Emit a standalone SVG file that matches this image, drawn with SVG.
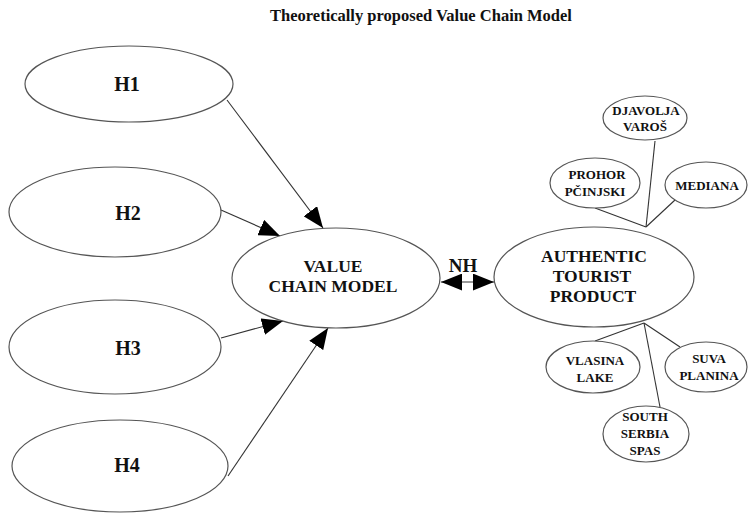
<svg xmlns="http://www.w3.org/2000/svg" width="749" height="530" viewBox="0 0 749 530">
<defs>
<style>
.n{fill:#fff;stroke:#555;stroke-width:1.2}
.c{stroke:#333;stroke-width:1.1;fill:none}
.t{font-family:"Liberation Serif","Times New Roman","DejaVu Serif",serif;font-weight:bold;fill:#111;text-anchor:middle}
.h{font-size:20px}
.mid{font-size:17.5px}
.sm{font-size:13px}
</style>
<marker id="ah" viewBox="0 0 20 16" refX="20" refY="8" markerWidth="21" markerHeight="17" markerUnits="userSpaceOnUse" orient="auto-start-reverse">
<path d="M0,0 L20,8 L0,16 Z" fill="#000"/>
</marker>
</defs>
<rect width="749" height="530" fill="#fff"/>
<text class="t" x="421" y="21" style="font-size:16.5px">Theoretically proposed Value Chain Model</text>
<g id="connectors">
<line class="c" x1="227" y1="100" x2="323" y2="228" marker-end="url(#ah)"/>
<line class="c" x1="221" y1="210" x2="280" y2="236" marker-end="url(#ah)"/>
<line class="c" x1="221" y1="338" x2="283" y2="321" marker-end="url(#ah)"/>
<line class="c" x1="228" y1="476" x2="328" y2="328" marker-end="url(#ah)"/>
<line class="c" x1="441" y1="282" x2="494" y2="282" marker-start="url(#ah)" marker-end="url(#ah)"/>
<line class="c" x1="655" y1="141" x2="646" y2="227"/>
<line class="c" x1="595" y1="208" x2="646" y2="227"/>
<line class="c" x1="675" y1="200" x2="646" y2="227"/>
<line class="c" x1="644" y1="323" x2="595" y2="341"/>
<line class="c" x1="644" y1="323" x2="680" y2="347"/>
<line class="c" x1="644" y1="323" x2="660" y2="407"/>
<text class="t" x="463" y="272" style="font-size:19px">NH</text>
</g>
<g id="h1"><ellipse class="n" cx="129" cy="84" rx="104" ry="38"/><text class="t h" x="127" y="91">H1</text></g>
<g id="h2"><ellipse class="n" cx="115" cy="212" rx="106" ry="45"/><text class="t h" x="128" y="220">H2</text></g>
<g id="h3"><ellipse class="n" cx="115" cy="347" rx="106" ry="47"/><text class="t h" x="128" y="355">H3</text></g>
<g id="h4"><ellipse class="n" cx="120" cy="466" rx="108" ry="46"/><text class="t h" x="127" y="472">H4</text></g>
<g id="vcm"><ellipse class="n" cx="336" cy="278" rx="104" ry="50"/><text class="t mid" x="333" y="272">VALUE</text><text class="t mid" x="333" y="292">CHAIN MODEL</text></g>
<g id="atp"><ellipse class="n" cx="594" cy="277" rx="100" ry="50"/><text class="t mid" x="594" y="262">AUTHENTIC</text><text class="t mid" x="592" y="282">TOURIST</text><text class="t mid" x="593" y="302">PRODUCT</text></g>
<g id="djavolja"><ellipse class="n" cx="645" cy="118" rx="42" ry="22"/><text class="t sm" x="646" y="115">DJAVOLJA</text><text class="t sm" x="645" y="131">VAROŠ</text></g>
<g id="prohor"><ellipse class="n" cx="595" cy="183" rx="45" ry="25"/><text class="t sm" x="597" y="179">PROHOR</text><text class="t sm" x="595" y="196">PČINJSKI</text></g>
<g id="mediana"><ellipse class="n" cx="706" cy="185" rx="41" ry="23"/><text class="t sm" x="707" y="190">MEDIANA</text></g>
<g id="vlasina"><ellipse class="n" cx="593" cy="367" rx="47" ry="26"/><text class="t sm" x="595" y="365">VLASINA</text><text class="t sm" x="595" y="382">LAKE</text></g>
<g id="suva"><ellipse class="n" cx="706" cy="367" rx="41" ry="25"/><text class="t sm" x="709" y="363">SUVA</text><text class="t sm" x="709" y="380">PLANINA</text></g>
<g id="spas"><ellipse class="n" cx="646" cy="434" rx="43" ry="28"/><text class="t sm" x="645" y="421">SOUTH</text><text class="t sm" x="645" y="438">SERBIA</text><text class="t sm" x="645" y="455">SPAS</text></g>
</svg>
